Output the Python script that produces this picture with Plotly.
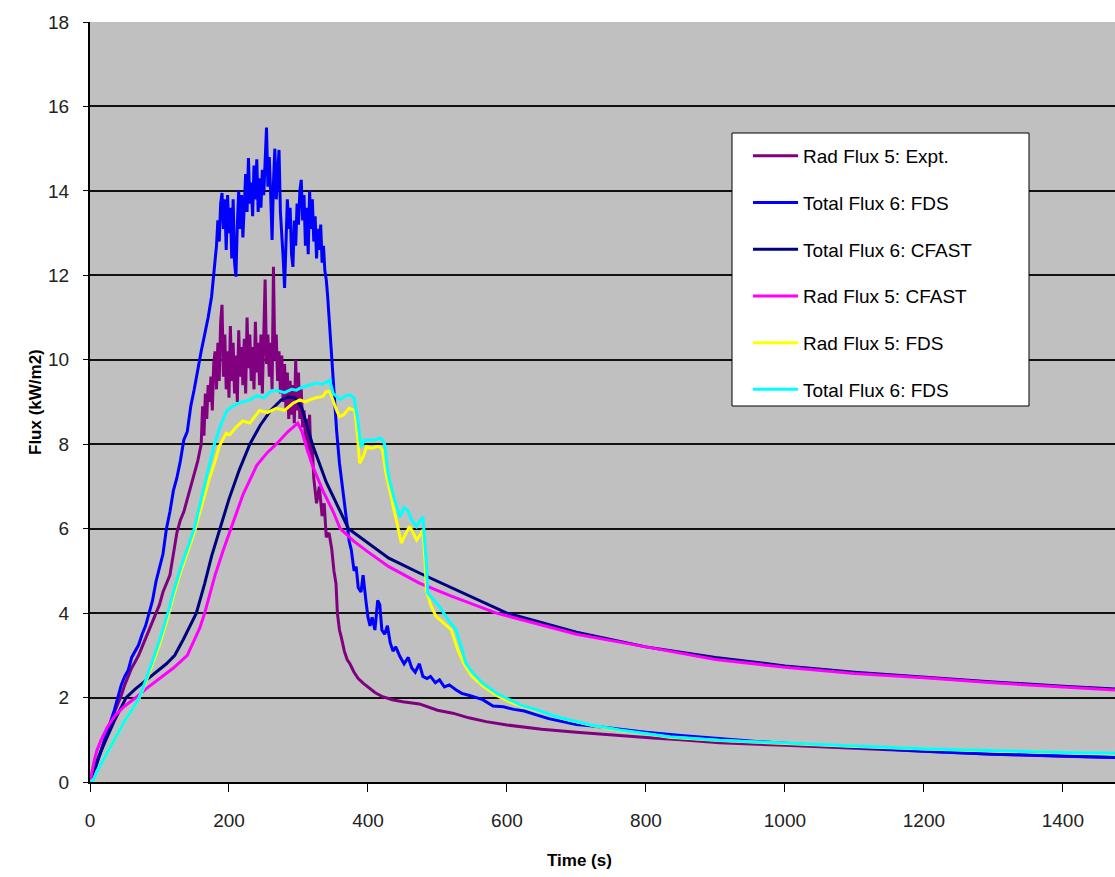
import plotly.graph_objects as go

# ---------------- data ----------------
expt_t = [0, 5, 10, 15, 20, 25, 30, 35, 40, 45, 50, 55, 60, 65, 70, 75, 80, 85, 90, 95, 100, 105, 110, 115, 120, 125, 130, 135, 140, 145, 150, 155,
          160, 162, 164, 166, 168, 170, 172, 174, 176, 178, 180, 182, 184, 186, 188, 190, 192, 194, 196, 198, 200, 202, 204, 206, 208, 210,
          212, 214, 216, 218, 220, 222, 224, 226, 228, 230, 232, 234, 236, 238, 240, 242, 244, 246, 248, 250, 252, 254, 256, 258, 260, 262,
          264, 266, 268, 270, 272, 274, 276, 278, 280, 282, 284, 286, 288, 290, 292, 294, 296, 298, 300, 302, 304, 306, 308, 310, 312, 314,
          316, 318, 320, 322, 326, 330, 334, 337, 340, 344, 348, 351, 354, 356, 359, 362, 366, 370, 374, 380, 386, 393, 400, 410, 421, 435,
          450, 474, 500, 522, 545, 570, 600, 618, 650, 700, 750, 810, 850, 906, 1000, 1100, 1200, 1300, 1400, 1475]
expt_flux = [0, 0.2, 0.45, 0.7, 0.95, 1.2, 1.45, 1.65, 1.85, 2.05, 2.3, 2.5, 2.7, 2.85, 3.0, 3.2, 3.4, 3.6, 3.8, 4.0, 4.2, 4.5, 4.7, 4.9, 5.4, 5.9, 6.2, 6.4, 6.7, 7.0, 7.3, 7.6,
             8.0, 8.9, 8.2, 9.2, 8.6, 9.4, 9.0, 9.6, 8.8, 9.9, 10.2, 9.3, 10.4, 9.5, 10.9, 11.3, 9.6, 10.6, 9.3, 10.2, 9.1, 10.8, 9.5, 10.4, 9.2, 10.1,
             9.0, 10.7, 9.6, 10.3, 9.4, 10.5, 9.2, 11.0, 9.8, 10.6, 9.5, 10.3, 9.3, 10.9, 9.7, 10.4, 9.4, 10.6, 9.2, 10.8, 11.9, 9.9, 10.6, 9.6, 10.4, 9.3,
             12.2, 10.0, 10.6, 9.5, 10.2, 9.2, 10.1, 9.0, 9.9, 8.8, 9.7, 8.6, 9.5, 8.7, 9.4, 8.5, 10.0, 8.8, 9.7, 8.6, 9.3, 8.4, 8.8, 8.1, 8.6, 7.8,
             8.7, 7.6, 7.9, 7.2, 6.6, 7.0, 6.3, 6.6, 5.8, 5.9, 5.5, 5.0, 4.7, 4.0, 3.6, 3.4, 3.1, 2.9, 2.8, 2.6, 2.45, 2.34, 2.25, 2.12, 2.02, 1.95,
             1.9, 1.85, 1.7, 1.63, 1.52, 1.43, 1.35, 1.31, 1.25, 1.18, 1.11, 1.04, 1.0, 0.93, 0.87, 0.8, 0.73, 0.66, 0.61, 0.58]

fds6_t = [0, 5, 10, 15, 20, 25, 30, 35, 40, 45, 50, 55, 60, 65, 70, 75, 80, 85, 90, 95, 100, 105, 110, 115, 120, 125, 130, 135, 140, 145, 150, 155, 160, 165, 170, 175,
          180, 182, 184, 186, 188, 190, 192, 194, 196, 198, 200, 202, 204, 206, 208, 210, 212, 214, 216, 218, 220, 222, 224, 226, 228, 230, 232, 234,
          236, 238, 240, 242, 244, 246, 248, 250, 252, 254, 256, 258, 260, 262, 264, 266, 268, 270, 272, 274, 276, 278, 280, 282, 284, 286, 288, 290,
          292, 294, 296, 298, 300, 302, 304, 306, 308, 310, 312, 314, 316, 318, 320, 322, 324, 326, 328, 330, 332, 334, 336, 338, 340, 342, 344, 346,
          349, 352, 355, 359, 364, 369, 373, 376, 380, 383, 386, 390, 393, 397, 400, 403, 406, 410, 414, 417, 420, 424, 428, 432, 436, 440, 446, 452,
          458, 463, 468, 474, 479, 485, 490, 497, 503, 510, 517, 527, 535, 546, 556, 565, 580, 595, 610, 625, 640, 660, 680, 700, 720, 750, 800, 850,
          900, 950, 1000, 1100, 1200, 1300, 1400, 1475]
fds6_flux = [0, 0.2, 0.45, 0.7, 0.9, 1.15, 1.45, 1.7, 2.0, 2.3, 2.5, 2.65, 2.95, 3.1, 3.25, 3.5, 3.7, 4.0, 4.3, 4.75, 5.1, 5.4, 6.0, 6.4, 6.9, 7.2, 7.6, 8.1, 8.3, 8.9, 9.3, 9.8, 10.2, 10.6, 11.0, 11.5,
             12.3, 12.7, 13.3, 12.8, 13.7, 13.95, 13.1, 13.8, 12.6, 13.9, 13.0, 13.6, 12.4, 13.8, 12.3, 11.97, 13.2, 14.0, 13.1, 13.9, 12.9, 13.6, 14.4, 13.5, 14.78, 13.7, 14.2, 13.4,
             14.6, 13.8, 14.75, 13.5, 14.3, 13.6, 14.5, 13.9, 14.6, 15.5, 14.1, 14.8, 13.9, 12.84, 14.2, 15.0, 13.8, 14.6, 14.97, 13.5, 13.0, 12.4, 11.7, 12.6, 13.8, 13.1, 13.6, 12.5,
             12.2, 13.3, 12.7, 13.7, 13.2, 14.0, 14.26, 13.3, 13.9, 12.7, 13.6, 12.5, 14.0, 13.1, 13.8, 12.8, 13.4, 12.4, 13.1, 12.6, 13.2, 12.3, 12.7, 12.1, 11.9, 11.5, 11.0, 10.5,
             9.8, 9.0, 8.3, 7.55, 6.9, 6.2, 5.7, 5.5, 5.0, 5.1, 4.6, 4.5, 4.9, 4.3, 3.9, 3.7, 3.9, 3.6, 4.3, 4.2, 3.6, 3.5, 3.7, 3.3, 3.1, 3.2, 2.97, 2.8,
             2.95, 2.7, 2.6, 2.8, 2.5, 2.45, 2.5, 2.35, 2.42, 2.25, 2.3, 2.18, 2.1, 2.05, 2.0, 1.95, 1.8, 1.78, 1.72, 1.68, 1.6, 1.5, 1.43, 1.36, 1.33, 1.27, 1.18, 1.1,
             1.03, 0.97, 0.92, 0.82, 0.73, 0.66, 0.61, 0.58]

cfast6_t = [0, 10, 23, 35, 52, 65, 80, 95, 110, 122, 135, 153, 165, 175, 187, 200, 215, 230, 245, 260, 275, 285, 295, 305, 320, 340, 372, 400, 430, 474, 520, 600, 700, 800, 900, 1000, 1100, 1200, 1300, 1400, 1475]
cfast6_flux = [0, 0.5, 1.0, 1.45, 2.0, 2.2, 2.4, 2.6, 2.8, 3.0, 3.4, 4.0, 4.7, 5.35, 6.0, 6.7, 7.4, 8.0, 8.45, 8.8, 9.05, 9.12, 9.1, 8.85, 8.0, 7.1, 6.0, 5.66, 5.3, 4.95, 4.6, 4.0, 3.55, 3.2, 2.95, 2.75, 2.6, 2.48, 2.37, 2.27, 2.2]

cfast5_t = [0, 3, 6, 10, 16, 25, 35, 50, 66, 80, 100, 120, 140, 150, 158, 165, 180, 192, 203, 220, 240, 255, 268, 285, 299, 305, 312, 320, 335, 350, 360, 380, 400, 430, 474, 520, 585, 700, 800, 900, 1000, 1100, 1200, 1300, 1400, 1475]
cfast5_flux = [0, 0.3, 0.5, 0.75, 1.0, 1.3, 1.55, 1.8, 2.0, 2.2, 2.45, 2.7, 3.0, 3.35, 3.65, 4.0, 4.9, 5.5, 6.0, 6.8, 7.5, 7.8, 8.0, 8.3, 8.5, 8.3, 7.9, 7.5, 6.9, 6.4, 6.0, 5.7, 5.45, 5.1, 4.71, 4.4, 4.0, 3.5, 3.2, 2.9, 2.72, 2.57, 2.47, 2.35, 2.25, 2.18]

fds5_t = [0, 5, 10, 20, 30, 40, 50, 60, 71, 80, 90, 100, 112, 120, 130, 140, 150, 160, 172, 180, 186, 196, 201, 210, 220, 230, 244, 255, 263, 268, 280, 287, 292, 302, 310, 316, 325, 335, 340, 345, 349, 355, 359, 365, 373, 381, 385, 388, 393, 398, 405, 412, 417, 421, 426, 431, 440, 448, 455, 460, 465, 470, 475, 479, 482, 484, 490, 498, 510, 520, 530, 540, 550, 565, 585, 604, 620, 642, 665, 690, 725, 762, 800, 834, 906, 1000, 1100, 1200, 1300, 1400, 1475]
fds5_flux = [0, 0.05, 0.25, 0.55, 0.85, 1.15, 1.45, 1.7, 2.0, 2.35, 2.8, 3.25, 3.9, 4.4, 4.95, 5.4, 5.9, 6.5, 7.2, 7.6, 7.95, 8.26, 8.22, 8.4, 8.55, 8.5, 8.8, 8.75, 8.8, 8.85, 8.8, 8.89, 8.97, 9.05, 9.0, 9.05, 9.1, 9.13, 9.25, 9.25, 9.05, 8.8, 8.65, 8.7, 8.85, 8.8, 8.2, 7.55, 7.7, 7.94, 7.9, 7.94, 7.94, 7.86, 7.3, 6.92, 6.2, 5.66, 5.9, 6.05, 5.9, 5.73, 5.85, 5.97, 5.3, 4.55, 4.2, 3.92, 3.75, 3.6, 3.1, 2.75, 2.5, 2.28, 2.05, 1.9, 1.8, 1.69, 1.57, 1.46, 1.33, 1.22, 1.14, 1.06, 0.98, 0.91, 0.84, 0.78, 0.73, 0.69, 0.67]

fds6b_t = [0, 5, 10, 20, 30, 40, 50, 60, 71, 80, 90, 100, 112, 120, 130, 140, 150, 160, 170, 179, 188, 197, 205, 215, 230, 240, 250, 260, 268, 280, 290, 297, 305, 315, 326, 335, 345, 350, 354, 360, 368, 374, 380, 385, 390, 395, 400, 410, 417, 421, 424, 428, 431, 438, 446, 452, 457, 463, 470, 475, 479, 482, 484, 486, 495, 503, 515, 527, 535, 541, 550, 565, 585, 604, 620, 642, 665, 690, 725, 762, 800, 834, 906, 1000, 1100, 1200, 1300, 1400, 1475]
fds6b_flux = [0, 0.05, 0.25, 0.55, 0.85, 1.15, 1.45, 1.7, 2.0, 2.4, 2.85, 3.35, 4.0, 4.5, 5.05, 5.5, 6.0, 6.7, 7.4, 8.0, 8.45, 8.8, 8.9, 8.98, 9.05, 9.15, 9.1, 9.25, 9.28, 9.22, 9.3, 9.28, 9.35, 9.4, 9.45, 9.42, 9.52, 9.2, 9.13, 9.05, 9.15, 9.17, 9.1, 8.6, 7.94, 8.1, 8.1, 8.1, 8.15, 8.1, 8.0, 7.4, 7.15, 6.7, 6.28, 6.5, 6.44, 6.2, 6.05, 6.2, 6.28, 5.6, 5.18, 4.47, 4.3, 4.15, 3.85, 3.6, 3.15, 2.81, 2.6, 2.34, 2.1, 1.94, 1.82, 1.71, 1.58, 1.47, 1.34, 1.23, 1.15, 1.07, 0.99, 0.92, 0.85, 0.79, 0.74, 0.7, 0.68]

series_names = ["Rad Flux 5: Expt.", "Total Flux 6: FDS", "Total Flux 6: CFAST",
                "Rad Flux 5: CFAST", "Rad Flux 5: FDS", "Total Flux 6: FDS"]
series_colors = ["#800080", "#0000FF", "#000080", "#FF00FF", "#FFFF00", "#00FFFF"]
series_x = [expt_t, fds6_t, cfast6_t, cfast5_t, fds5_t, fds6b_t]
series_y = [expt_flux, fds6_flux, cfast6_flux, cfast5_flux, fds5_flux, fds6b_flux]

x_ticks = [0, 200, 400, 600, 800, 1000, 1200, 1400]
y_ticks = [0, 2, 4, 6, 8, 10, 12, 14, 16, 18]

FONT = "Liberation Sans, Arial, sans-serif"

# plot area in pixels: left 90, right 1115, top 22, bottom 782
PW, PH = 1025, 760
def px_x(p):
    return (p - 90) / PW
def px_y(p):
    return (782 - p) / PH

fig = go.Figure()
for i, (name, col, xs, ys) in enumerate(zip(series_names, series_colors, series_x, series_y)):
    fig.add_trace(go.Scatter(
        x=xs, y=ys, mode="lines", name=name,
        line=dict(color=col, width=3),
        legendgroup=f"g{i}",
    ))

fig.update_layout(
    width=1115, height=877,
    margin=dict(l=90, r=0, t=22, b=95),
    paper_bgcolor="white",
    plot_bgcolor="#c0c0c0",
    showlegend=True,
    legend=dict(
        x=px_x(748), y=px_y(137), xanchor="left", yanchor="top",
        bgcolor="rgba(0,0,0,0)", borderwidth=0,
        font=dict(family=FONT, size=19, color="black"),
        traceorder="grouped", tracegroupgap=19,
        itemwidth=45,
    ),
    shapes=[
        dict(type="rect", xref="paper", yref="paper",
             x0=px_x(732), x1=px_x(1029), y0=px_y(406), y1=px_y(133),
             fillcolor="white", line=dict(color="black", width=1), layer="above"),
    ],
    xaxis=dict(
        range=[0, 1475], tickvals=x_ticks,
        showgrid=False, zeroline=False,
        showline=True, linecolor="black", linewidth=2,
        ticks="outside", ticklen=8, tickcolor="black", tickwidth=1,
        tickfont=dict(family=FONT, size=19, color="#222"),
        ticklabelstandoff=12,
    ),
    yaxis=dict(
        range=[0, 18], tickvals=y_ticks,
        showgrid=True, gridcolor="#111", gridwidth=1.5,
        zeroline=False,
        showline=True, linecolor="black", linewidth=2,
        ticks="outside", ticklen=5, tickcolor="black", tickwidth=1,
        tickfont=dict(family=FONT, size=19, color="#222"),
        ticklabelstandoff=10,
    ),
    annotations=[
        dict(text="<b>Time (s)</b>", xref="paper", yref="paper",
             x=px_x(579), y=px_y(860),
             xanchor="center", yanchor="middle", showarrow=False,
             font=dict(family=FONT, size=17, color="black")),
        dict(text="<b>Flux (kW/m2)</b>", xref="paper", yref="paper",
             x=px_x(35), y=0.5, textangle=-90,
             xanchor="center", yanchor="middle", showarrow=False,
             font=dict(family=FONT, size=17, color="black")),
    ],
)

fig.write_html("out.html")
